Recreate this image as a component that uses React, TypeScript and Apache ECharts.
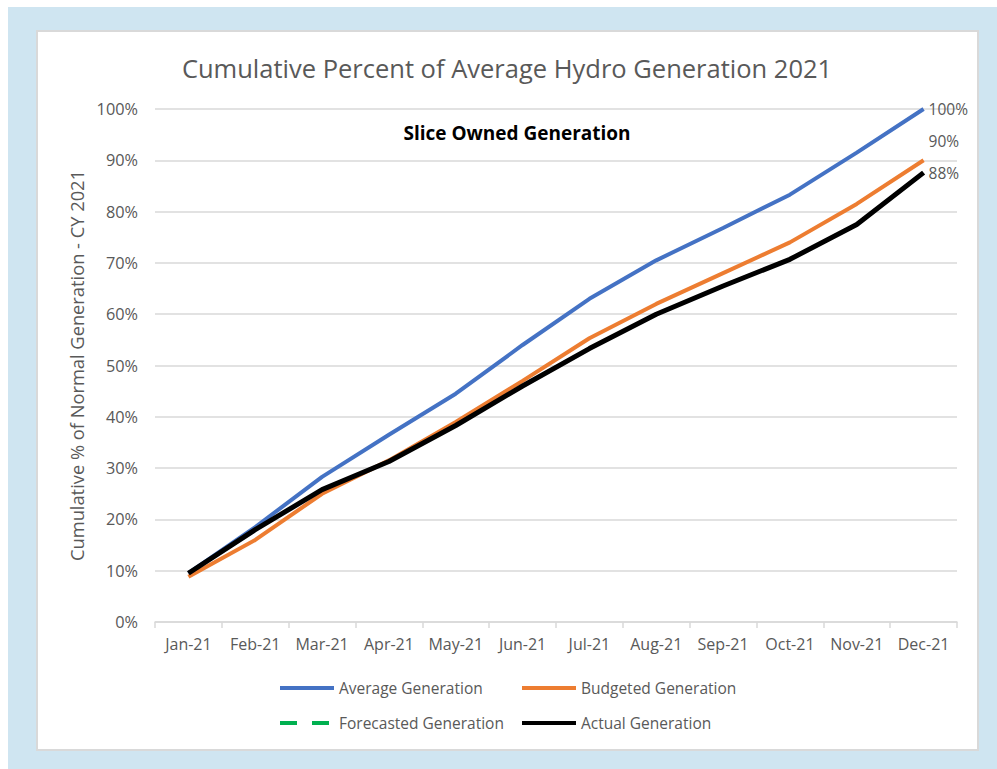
import React, { useEffect, useRef } from "react";
import * as echarts from "echarts";

const months = ["Jan-21", "Feb-21", "Mar-21", "Apr-21", "May-21", "Jun-21", "Jul-21", "Aug-21", "Sep-21", "Oct-21", "Nov-21", "Dec-21"];
const averageGen = [9.5, 18.5, 28.3, 36.5, 44.5, 54, 63, 70.5, 76.8, 83.3, 91.5, 100];
const budgetedGen = [8.8, 16, 25, 31.5, 39, 47, 55.3, 62, 68, 74, 81.5, 90];
const forecastedGen: (number | null)[] = [];
const actualGen = [9.5, 18, 25.8, 31.3, 38.3, 46, 53.3, 60, 65.5, 70.7, 77.5, 87.6];

const FONT = "Open Sans";
const GRAY = "#595959";

function endLabel(offset: number[]) {
  return {
    show: true,
    distance: 5,
    offset,
    color: GRAY,
    fontFamily: FONT,
    fontSize: 15.5,
    formatter: (p: any) => Math.round(p.value) + "%",
  };
}

export default function App() {
  const ref = useRef<HTMLDivElement>(null);
  useEffect(() => {
    const chart = echarts.init(ref.current!, null, { renderer: "svg" });
    const legendBase = {
      itemWidth: 54,
      itemHeight: 14,
      itemGap: 4,
      itemStyle: { opacity: 0 },
      lineStyle: { width: 4 },
      textStyle: { color: GRAY, fontFamily: FONT, fontSize: 15.5, padding: [0, 0, 0, 0] },
    };
    chart.setOption({
      animation: false,
      backgroundColor: "#ffffff",
      graphic: [
        { type: "rect", z: -10, shape: { x: 8, y: 7, width: 989, height: 762 }, style: { fill: "#cfe5f1" } },
        { type: "rect", z: -9, shape: { x: 37, y: 31, width: 941, height: 719 }, style: { fill: "#ffffff", stroke: "#d9d9d9", lineWidth: 2 } },
        {
          type: "text",
          x: 507,
          y: 68,
          style: { text: "Cumulative Percent of Average Hydro Generation 2021", fill: GRAY, font: `25.5px "${FONT}"`, align: "center", verticalAlign: "middle" },
        },
        {
          type: "text",
          x: 517,
          y: 133,
          style: { text: "Slice Owned Generation", fill: "#000000", font: `bold 19px "${FONT}"`, align: "center", verticalAlign: "middle" },
        },
      ],
      grid: { left: 155, right: 40, top: 109, bottom: 147 },
      xAxis: {
        type: "category",
        data: months,
        axisLine: { lineStyle: { color: "#d9d9d9", width: 1.5 } },
        axisTick: { show: true, length: 6, interval: 0, lineStyle: { color: "#d9d9d9", width: 1.5 } },
        axisLabel: { color: GRAY, fontFamily: FONT, fontSize: 16, margin: 14, interval: 0 },
      },
      yAxis: {
        type: "value",
        min: 0,
        max: 100,
        interval: 10,
        name: "Cumulative % of Normal Generation - CY 2021",
        nameLocation: "middle",
        nameGap: 68,
        nameTextStyle: { color: GRAY, fontFamily: FONT, fontSize: 18.3 },
        axisLabel: { color: GRAY, fontFamily: FONT, fontSize: 16.3, formatter: "{value}%", margin: 17 },
        splitLine: { lineStyle: { color: "#d9d9d9", width: 1.5 } },
        axisLine: { show: false },
        axisTick: { show: false },
      },
      legend: [
        { ...legendBase, data: ["Average Generation"], left: 273, top: 675 },
        { ...legendBase, data: ["Budgeted Generation"], left: 515, top: 675 },
        { ...legendBase, data: ["Forecasted Generation"], left: 273, top: 710 },
        { ...legendBase, data: ["Actual Generation"], left: 515, top: 710 },
      ],
      series: [
        {
          name: "Average Generation",
          type: "line",
          data: averageGen,
          symbol: "none",
          lineStyle: { color: "#4472c4", width: 4 },
          itemStyle: { color: "#4472c4" },
          endLabel: endLabel([0, 0]),
        },
        {
          name: "Budgeted Generation",
          type: "line",
          data: budgetedGen,
          symbol: "none",
          lineStyle: { color: "#ed7d31", width: 4 },
          itemStyle: { color: "#ed7d31" },
          endLabel: endLabel([0, -19]),
        },
        {
          name: "Forecasted Generation",
          type: "line",
          data: forecastedGen,
          symbol: "none",
          lineStyle: { color: "#00b050", width: 4, type: [17, 15] },
          itemStyle: { color: "#00b050" },
        },
        {
          name: "Actual Generation",
          type: "line",
          data: actualGen,
          symbol: "none",
          lineStyle: { color: "#000000", width: 5 },
          itemStyle: { color: "#000000" },
          endLabel: endLabel([0, 0]),
        },
      ],
    });
    return () => chart.dispose();
  }, []);
  return <div ref={ref} style={{ position: "fixed", left: 0, top: 0, width: 997, height: 769 }} />;
}
